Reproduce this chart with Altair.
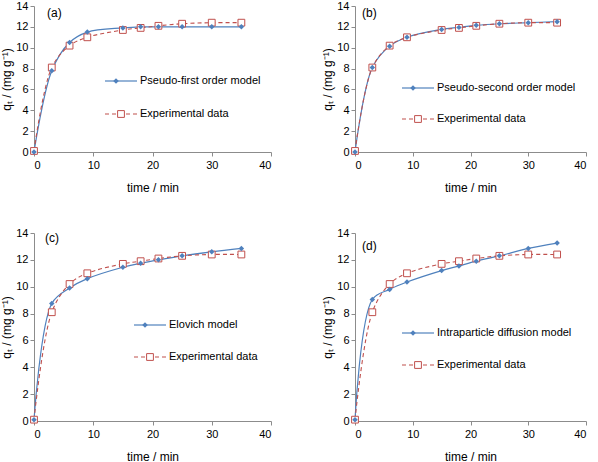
import altair as alt
import pandas as pd

# Sampling times (min)
time_min = [0, 3, 6, 9, 15, 18, 21, 25, 30, 35]

# Measured uptake q_t (mg/g)
q_experimental = [0.1, 8.1, 10.2, 11.0, 11.7, 11.9, 12.1, 12.3, 12.4, 12.4]

# Kinetic model fits (mg/g)
q_pseudo_first = [0.0, 7.8, 10.5, 11.5, 11.9, 12.0, 12.0, 12.0, 12.0, 12.0]
q_pseudo_second = [0.0, 8.1, 10.15, 11.0, 11.75, 11.95, 12.15, 12.3, 12.4, 12.5]
q_elovich = [0.1, 8.75, 9.9, 10.6, 11.45, 11.75, 12.0, 12.3, 12.6, 12.85]
q_intraparticle = [0.1, 9.05, 9.8, 10.35, 11.2, 11.55, 11.9, 12.3, 12.85, 13.25]

MODEL_COLOR = "#4F81BD"
EXP_COLOR = "#C0504D"
AXIS_COLOR = "#8c8c8c"
FONT = "Liberation Sans"

# Panel setup: tag, model name, model values, plot size, legend & tag placement
panels = [
    dict(tag="(a)", name="Pseudo-first order model", q=q_pseudo_first,
         w=237, h=146, lx=71, ly=75, gap=33, tx=13, ty=7),
    dict(tag="(b)", name="Pseudo-second order model", q=q_pseudo_second,
         w=231, h=146, lx=47, ly=82, gap=31, tx=7, ty=7),
    dict(tag="(c)", name="Elovich model", q=q_elovich,
         w=237, h=188, lx=100, ly=92, gap=32, tx=11, ty=5),
    dict(tag="(d)", name="Intraparticle diffusion model", q=q_intraparticle,
         w=231, h=188, lx=47, ly=100, gap=32, tx=7, ty=13),
]

x_scale = alt.Scale(domain=[0, 40], nice=False, zero=False)
y_scale = alt.Scale(domain=[0, 14], nice=False)
x_axis = alt.Axis(title="time / min", values=[0, 10, 20, 30, 40],
                  titlePadding=12, labelOverlap=False, labelPadding=3)
y_axis = alt.Axis(title="qₜ / (mg g⁻¹)", values=list(range(0, 15, 2)),
                  titlePadding=2, labelOverlap=False, labelPadding=2)

one_row = alt.Data(values=[{"k": 0}])
CURVE = "catmull-rom"


def panel(p):
    df = pd.DataFrame({"t": time_min, "exp": q_experimental, "model": p["q"]})
    base = alt.Chart(df)
    x = alt.X("t:Q", scale=x_scale, axis=x_axis)
    y_model = alt.Y("model:Q", scale=y_scale, axis=y_axis)
    y_exp = alt.Y("exp:Q", scale=y_scale, axis=y_axis)

    model_line = base.mark_line(
        color=MODEL_COLOR, strokeWidth=1.2, interpolate=CURVE
    ).encode(x=x, y=y_model)
    model_pts = base.mark_point(
        shape="diamond", filled=True, color=MODEL_COLOR, size=30, opacity=1
    ).encode(x=x, y=y_model)

    exp_line = base.mark_line(
        color=EXP_COLOR, strokeWidth=1.1, strokeDash=[4, 3], interpolate=CURVE
    ).encode(x=x, y=y_exp)
    exp_pts = base.mark_point(
        shape="square", filled=True, fill="white", stroke=EXP_COLOR,
        strokeWidth=1, size=46, opacity=1
    ).encode(x=x, y=y_exp)

    # In-plot legend
    lx, ly, gap = p["lx"], p["ly"], p["gap"]
    leg = alt.Chart(one_row)
    leg_model_line = leg.mark_rule(color=MODEL_COLOR, strokeWidth=1.2).encode(
        x=alt.value(lx), x2=alt.value(lx + 32), y=alt.value(ly))
    leg_model_pt = leg.mark_point(
        shape="diamond", filled=True, color=MODEL_COLOR, size=30, opacity=1
    ).encode(x=alt.value(lx + 11), y=alt.value(ly))
    leg_model_txt = leg.mark_text(
        align="left", baseline="middle", font=FONT, fontSize=11, color="black"
    ).encode(x=alt.value(lx + 35), y=alt.value(ly), text=alt.value(p["name"]))

    ly2 = ly + gap
    leg_exp_line = leg.mark_rule(color=EXP_COLOR, strokeWidth=1.1, strokeDash=[4, 3]).encode(
        x=alt.value(lx), x2=alt.value(lx + 32), y=alt.value(ly2))
    leg_exp_pt = leg.mark_point(
        shape="square", filled=True, fill="white", stroke=EXP_COLOR,
        strokeWidth=1, size=46, opacity=1
    ).encode(x=alt.value(lx + 16), y=alt.value(ly2))
    leg_exp_txt = leg.mark_text(
        align="left", baseline="middle", font=FONT, fontSize=11, color="black"
    ).encode(x=alt.value(lx + 35), y=alt.value(ly2), text=alt.value("Experimental data"))

    tag = leg.mark_text(
        align="left", baseline="middle", font=FONT, fontSize=12, color="black"
    ).encode(x=alt.value(p["tx"]), y=alt.value(p["ty"]), text=alt.value(p["tag"]))

    return alt.layer(
        model_line, exp_line, exp_pts, model_pts,
        leg_model_line, leg_exp_line, leg_exp_pt, leg_model_pt,
        leg_model_txt, leg_exp_txt, tag,
    ).properties(width=p["w"], height=p["h"])


top = alt.hconcat(panel(panels[0]), panel(panels[1]), spacing=49)
bottom = alt.hconcat(panel(panels[2]), panel(panels[3]), spacing=49)

chart = alt.vconcat(top, bottom, spacing=34).properties(
    padding={"left": 0, "top": 0, "right": 0, "bottom": 0}
).configure_view(stroke=None).configure_axis(
    grid=False,
    domainColor=AXIS_COLOR,
    tickColor=AXIS_COLOR,
    tickSize=4,
    labelFont=FONT,
    labelFontSize=11,
    labelColor="black",
    titleFont=FONT,
    titleFontSize=12,
    titleFontWeight="normal",
    titleColor="black",
).configure_concat(spacing=0)

chart.save("out.html", embed_options={"renderer": "svg", "actions": False})
